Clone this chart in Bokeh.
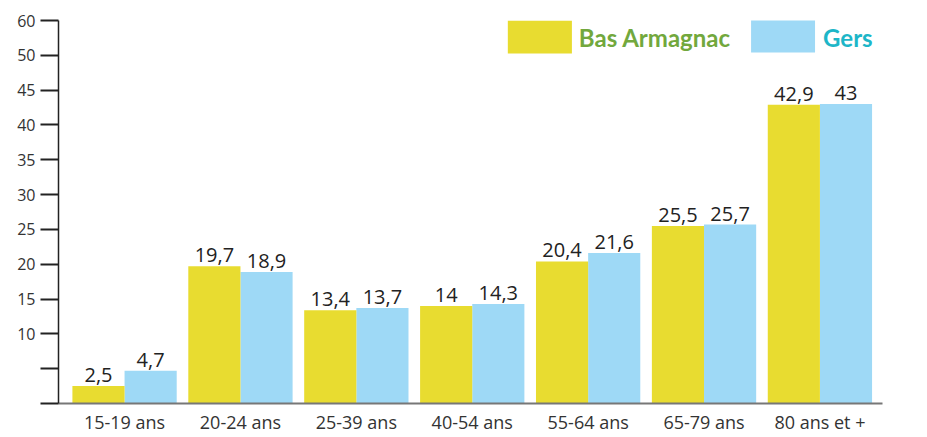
from bokeh.plotting import figure
from bokeh.models import ColumnDataSource, LabelSet, Label, BoxAnnotation, FixedTicker, Range1d
from bokeh.core.properties import value
from bokeh.embed import file_html
from bokeh.resources import INLINE

categories = ["15-19 ans", "20-24 ans", "25-39 ans", "40-54 ans", "55-64 ans", "65-79 ans", "80 ans et +"]
bas_armagnac = [2.5, 19.7, 13.4, 14.0, 20.4, 25.5, 42.9]
gers = [4.7, 18.9, 13.7, 14.3, 21.6, 25.7, 43.0]
bas_labels = ["2,5", "19,7", "13,4", "14", "20,4", "25,5", "42,9"]
gers_labels = ["4,7", "18,9", "13,7", "14,3", "21,6", "25,7", "43"]
y_ticks = [0, 5, 10, 15, 20, 25, 30, 35, 40, 45, 50, 55]
y_tick_labels = {0: "", 5: "", 55: "60"}

YELLOW = "#e8dc30"
BLUE = "#9ed9f6"
GREEN = "#72a83d"
TEAL = "#1db6c8"
FONT = "Open Sans"

n = len(categories)
xs = list(range(n))
bw = 0.45

src_b = ColumnDataSource(dict(x=[i - bw / 2 for i in xs], top=bas_armagnac, lab=bas_labels))
src_g = ColumnDataSource(dict(x=[i + bw / 2 for i in xs], top=gers, lab=gers_labels))

p = figure(width=927, height=437, output_backend="svg", toolbar_location=None,
           x_range=Range1d(-0.57, n - 0.46), y_range=Range1d(0, 55),
           min_border_left=58, min_border_right=45, min_border_top=20, min_border_bottom=34)
p.outline_line_color = None
p.grid.grid_line_color = None
p.background_fill_color = "white"
p.border_fill_color = "white"

p.vbar(x="x", top="top", width=bw, source=src_g, color=BLUE, line_color=None)
p.vbar(x="x", top="top", width=bw, source=src_b, color=YELLOW, line_color=None)

for src in (src_b, src_g):
    p.add_layout(LabelSet(x="x", y="top", text="lab", source=src, text_align="center",
                          text_baseline="bottom", y_offset=4, text_font=value(FONT),
                          text_font_size="20px", text_color="#222222"))

# y axis
p.yaxis.ticker = FixedTicker(ticks=y_ticks)
p.yaxis.major_label_overrides = y_tick_labels
p.yaxis.major_tick_out = 18
p.yaxis.major_tick_in = 0
p.yaxis.minor_tick_line_color = None
p.yaxis.major_tick_line_width = 2
p.yaxis.major_tick_line_color = "#222222"
p.yaxis.axis_line_color = "#222222"
p.yaxis.axis_line_width = 1.5
p.yaxis.major_label_text_font = FONT
p.yaxis.major_label_text_font_size = "16px"
p.yaxis.major_label_text_color = "#333333"
p.yaxis.major_label_standoff = 5

# x axis
p.xaxis.ticker = FixedTicker(ticks=xs)
p.xaxis.major_label_overrides = {i: c for i, c in enumerate(categories)}
p.xaxis.major_tick_line_color = None
p.xaxis.major_tick_out = 0
p.xaxis.major_tick_in = 0
p.xaxis.minor_tick_line_color = None
p.xaxis.axis_line_color = "#777777"
p.xaxis.axis_line_width = 2
p.xaxis.major_label_text_font = FONT
p.xaxis.major_label_text_font_size = "18px"
p.xaxis.major_label_text_color = "#333333"
p.xaxis.major_label_standoff = 6

# legend
p.add_layout(BoxAnnotation(left=3.307, right=3.86, bottom=50.26, top=55.0,
                           fill_color=YELLOW, fill_alpha=1, line_color=None, level="overlay"))
p.add_layout(Label(x=3.92, y=52.6, text="Bas Armagnac", text_font="Lato", text_font_style="bold",
                   text_font_size="24px", text_color=GREEN, text_baseline="middle"))
p.add_layout(BoxAnnotation(left=5.406, right=5.958, bottom=50.4, top=55.14,
                           fill_color=BLUE, fill_alpha=1, line_color=None, level="overlay"))
p.add_layout(Label(x=6.027, y=52.6, text="Gers", text_font="Lato", text_font_style="bold",
                   text_font_size="24px", text_color=TEAL, text_baseline="middle"))

# source text (rotated, at right edge)
p.add_layout(Label(x=6.86, y=43.9, text="Source : Insee", angle=1.5708, text_font=FONT,
                   text_font_size="11px", text_color="#888888", text_baseline="middle",
                   text_align="left"))

open("out.html", "w").write(file_html(p, INLINE))
